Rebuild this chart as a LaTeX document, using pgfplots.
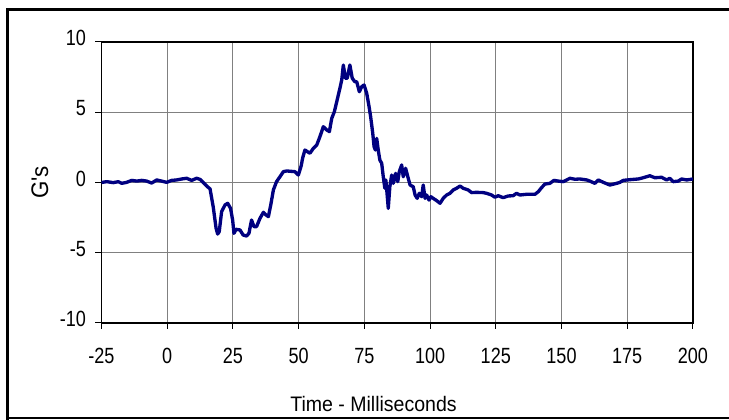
\documentclass[border=0pt]{standalone}
\usepackage{fontspec}
\setmainfont[FakeStretch=0.82]{Liberation Sans}
\newfontfamily\labelfont[FakeStretch=0.93]{Liberation Sans}
\usepackage{pgfplots}
\pgfplotsset{compat=1.18}
\definecolor{navy}{RGB}{0,0,128}
\pgfplotstableread{
t G
-25 0.0
-23 0.06
-20.5 -0.01
-18.6 0.06
-17.3 -0.06
-15.4 0.01
-13.5 0.15
-11.6 0.1
-9.7 0.15
-7.8 0.1
-5.9 -0.04
-4 0.18
-2.1 0.1
-0.2 0.01
1.7 0.15
3.6 0.18
5.5 0.25
7.4 0.3
9.3 0.15
11.2 0.3
12.5 0.22
14 -0.06
15.3 -0.3
16.3 -0.45
17.5 -1.72
18.6 -3.26
19.2 -3.67
19.8 -3.5
20.7 -2.08
22 -1.6
23 -1.48
24.1 -1.84
24.9 -2.67
25.4 -3.62
26.2 -3.33
27.7 -3.38
28.9 -3.74
30.2 -3.81
31.1 -3.62
32.1 -2.67
33 -3.14
34 -3.14
35.3 -2.55
36.6 -2.12
37.6 -2.31
38.5 -2.43
39.4 -1.6
40.4 -0.53
41.6 0.06
42.9 0.41
44.2 0.77
45.5 0.82
48.6 0.77
49.9 0.53
51.0 1.2
51.5 1.72
52.4 2.31
54.3 2.08
55.6 2.43
56.9 2.67
58.1 3.26
59.4 3.97
60.7 3.74
61.7 3.62
62.6 4.57
63.6 5.04
64.5 5.75
65.7 6.7
66.4 7.3
67 8.36
67.8 7.42
68.5 7.42
69.5 8.36
70.4 7.42
71.4 7.17
72.1 7.17
73.1 6.46
74 6.82
74.9 6.94
75.9 6.35
76.8 5.4
77.4 4.68
78.2 3.5
78.7 2.55
79.2 2.31
79.7 3.14
80.3 2.3
80.9 1.6
81.6 1.37
82.2 0.41
82.8 -0.41
83.2 0.18
84.1 -1.84
84.7 -0.3
85.4 0.53
86 -0.06
86.9 0.65
87.7 0.06
88.3 0.77
89.2 1.25
89.8 0.41
90.7 1.01
91.7 0.3
92.4 -0.18
93.6 -0.3
94.3 -0.89
95.1 -1.13
95.9 -0.77
96.8 -1.01
97.4 -0.18
98.1 -1.13
98.7 -0.89
99.6 -1.25
100.3 -1.01
101.2 -1.13
102.2 -1.25
103.8 -1.48
105 -1.13
106.3 -0.89
107.6 -0.77
108.8 -0.53
110.1 -0.41
111.4 -0.25
112.6 -0.41
114.5 -0.53
115.8 -0.72
117.7 -0.7
120.2 -0.72
121.5 -0.77
123.4 -0.89
124.7 -1.05
125.9 -0.94
127.8 -1.08
129.7 -0.96
131.6 -0.94
132.9 -0.77
134.2 -0.89
136.7 -0.84
139.9 -0.84
141.2 -0.65
142.4 -0.37
143.7 -0.11
145.6 -0.06
147.1 0.15
148.8 0.1
150.7 0.06
153.2 0.3
155.1 0.23
157 0.25
159.6 0.18
160.8 0.1
162.7 -0.06
164 0.18
165.9 0.01
168.4 -0.18
171 -0.06
172.2 0.01
173.5 0.15
176 0.2
179.2 0.25
181.1 0.34
183.6 0.48
185.5 0.34
188.1 0.37
190 0.18
191.2 0.3
192.5 0.06
194.4 0.1
195.7 0.25
197.6 0.18
200 0.25
}\accel
\begin{document}
\begin{tikzpicture}
\useasboundingbox (0,0) rectangle (546.75pt,315pt);
\draw[line width=2.25pt] (5.6pt,0pt) -- (5.6pt,309pt);
\draw[line width=2.25pt] (4.5pt,307.9pt) -- (600pt,307.9pt);
\draw[line width=1.5pt] (4.5pt,1.3pt) -- (600pt,1.3pt);
\begin{axis}[
  at={(76.1pt,72.75pt)}, anchor=south west,
  scale only axis, width=443.6pt, height=210.75pt,
  xmin=-25, xmax=200, ymin=-10, ymax=10,
  xtick={-25,0,...,200}, ytick={-10,-5,...,10},
  tick pos=left,
  grid=major, grid style={color=black!50, line width=0.75pt},
  tick align=outside, major tick length=4.5pt,
  tick style={black, line width=0.75pt},
  axis line style={black, line width=0.9pt},
  /pgf/number format/assume math mode=true,
  tick label style={font=\fontsize{16.5}{19}\selectfont},
  xticklabel style={anchor=base, yshift=-26pt},
  yticklabel style={anchor=mid east, inner sep=0pt, xshift=-7pt},
  xlabel={Time - Milliseconds}, ylabel={G's},
  xlabel style={font=\labelfont\fontsize{15.75}{19}\selectfont,
    at={(axis description cs:0.46,-0.288)}, anchor=center},
  ylabel style={font=\labelfont\fontsize{18}{21}\selectfont,
    at={(axis description cs:-0.104,0.5)}, anchor=center},
]
\addplot[navy, line width=2.5pt, line join=round] table[x=t, y=G] {\accel};
\end{axis}
\end{tikzpicture}
\end{document}
